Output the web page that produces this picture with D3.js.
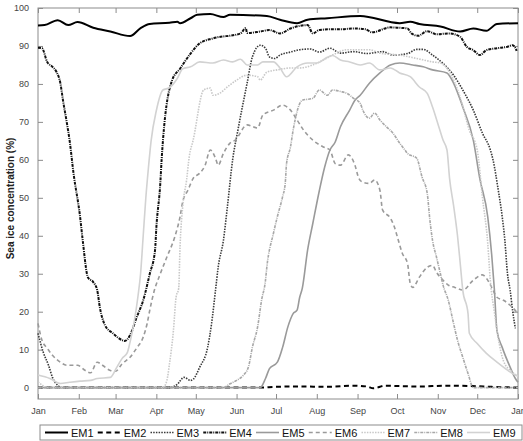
<!DOCTYPE html>
<html>
<head>
<meta charset="utf-8">
<script src="https://cdn.jsdelivr.net/npm/d3@7"></script>
<style>
  body { margin: 0; background: #fff; }
  svg { display: block; font-family: "Liberation Sans", Arial, sans-serif; }
</style>
</head>
<body>
<div id="app"></div>
<script>
// month ticks (day of year)
let monthDays = [0, 31, 59, 90, 120, 151, 181, 212, 243, 273, 304, 334, 365]
let monthLabels = ["Jan", "Feb", "Mar", "Apr", "May", "Jun", "Jul", "Aug", "Sep", "Oct", "Nov", "Dec", "Jan"]
let yTicks = [0, 10, 20, 30, 40, 50, 60, 70, 80, 90, 100]
let seriesNames = ["EM1", "EM2", "EM3", "EM4", "EM5", "EM6", "EM7", "EM8", "EM9"]

// [day of year, concentration %]
let em1 = [[0,95.4],[5,95.5],[15,96.8],[23,95.5],[30,96.3],[42,94.8],[55,93.8],[70,92.6],[78,94.7],[85,95.8],
  [100,96.1],[106,96.4],[108,96],[116,97.3],[121,98.2],[131,98.4],[141,97.6],[146,98.2],[174,97.9],[184,96.9],
  [197,96],[205,96.9],[220,97.3],[245,97.9],[275,96],[283,96.4],[290,95.8],[306,95.1],[321,93.8],[331,94.6],
  [341,94],[349,95.8],[365,96]]
let em2 = [[0,0],[170,0],[180,0.2],[200,0.3],[220,0.2],[240,0.5],[250,0.3],[255,-0.2],[264,0.5],[275,0.4],
  [290,0.3],[310,0.5],[330,0.4],[345,0.2],[365,0]]
let em3 = [[0,14.3],[4,9.3],[8,5.9],[11,2.7],[15,0.6],[18,0],[100,0],[106,0.9],[111,2.7],[116,1.9],[118,2.2],
  [123,5.4],[129,10.6],[132,16.9],[135,25.7],[137,31.7],[141,38.8],[144,47.6],[148,60],[152,67.8],[159,80.2],
  [163,87.1],[169,90.2],[173,89.4],[176,87.1],[180,86.7],[184,87.6],[192,88.4],[199,89],[207,89.2],[214,88.4],
  [222,89.4],[230,88.1],[240,88.5],[250,88],[262,88.5],[270,87.6],[281,88],[288,89.1],[293,89.1],[300,87.6],
  [308,85.4],[316,82.3],[323,78.4],[331,73.1],[338,67],[344,62.6],[346,60],[350,52],[353,45],[355,38.8],
  [357,30],[359,25.7],[361,20],[363,15.6]]
let em4 = [[0,89.5],[3,89.4],[7,85.8],[11,84.5],[14,83.2],[17,80.2],[19,75.7],[22,69.6],[24,65.2],[27,56.5],
  [32,45],[34,38.8],[38,29],[42,27.8],[45,25.7],[47,21.2],[51,16.4],[57,14.3],[64,12.5],[66,12.3],[70,13.8],
  [75,18.5],[80,23],[85,30],[89,36.2],[90,42.2],[93,53.8],[94,60],[95,65],[102,81],[108,84],[116,88],
  [123,90.7],[133,92],[154,93.3],[158,94.7],[159,93.4],[169,93.8],[176,94.2],[184,93.3],[192,94.6],[205,95.5],
  [209,93.3],[214,94.2],[224,94.4],[230,94.4],[240,94.6],[249,94.4],[254,93.6],[268,94.9],[274,94.8],
  [281,94.6],[284,93.3],[289,92.7],[296,93.9],[303,93.1],[313,93.3],[321,92.4],[326,89.8],[331,88.9],[336,87.6],
  [341,88.9],[349,89.4],[357,89.8],[361,90.2],[364,88.7]]
let em5 = [[0,0],[169,0],[173,2.4],[176,5],[182,6.7],[186,10.6],[190,16],[194,19.5],[197,20.4],[199,23.8],
  [201,26.2],[205,36.2],[209,43.3],[214,52],[218,58.1],[222,62.6],[226,64.7],[230,68.7],[237,73.1],[241,75.7],
  [245,77],[252,80.2],[260,82.9],[268,85],[275,85.5],[285,85],[293,84.5],[300,83.7],[311,82.9],[316,80.2],
  [323,73.9],[331,65.2],[336,55],[342,45],[345,35],[347,26],[349,15],[353,10.6],[359,5.4],[363,2.4],[365,1.4]]
let em6 = [[0,16.9],[3,12.5],[7,10.4],[11,8.5],[17,6.7],[22,5.9],[30,5.9],[36,4.5],[40,3.9],[45,6.7],[49,5.9],
  [55,4.5],[59,4.3],[64,6.3],[70,8],[75,10.4],[80,13.3],[83,16.9],[85,20.4],[88,25],[93,30],[98,34.4],
  [104,39.7],[108,45],[110,48.9],[114,52],[118,55.1],[123,56.5],[127,58.5],[131,62.6],[135,60.4],[137,58.6],
  [141,61.7],[146,64.4],[150,65.2],[159,69.2],[167,68.4],[171,71.8],[179,73.1],[186,74.4],[192,73.1],[197,70.5],
  [202,67.8],[209,65.2],[217,63.4],[222,62.6],[226,59],[230,58.6],[236,61.3],[241,58.6],[244,55.1],[247,54.1],
  [252,53.8],[256,54.7],[260,52],[262,46.8],[268,44.6],[271,42.3],[274,38.8],[277,35.4],[281,32.7],[283,27.5],
  [285,26.4],[290,29.1],[296,31.7],[300,32.2],[303,30.4],[308,28.3],[312,27],[317,26.4],[323,25.7],[331,28.3],
  [338,29.7],[341,28.8],[345,26.4],[349,23.8],[354,23],[359,21.7],[364,19.9]]
let em7 = [[0,1.5],[8,0],[95,0],[98,1.9],[100,6.3],[103,15.1],[105,23.8],[107,26.2],[108,37],[110,47.6],
  [113,54.7],[115,60.8],[118,65.2],[126,78.4],[131,78.9],[133,77],[138,77.5],[144,79.2],[151,81],[159,82.3],
  [167,81.9],[169,81],[174,83.1],[182,83.7],[192,84.2],[199,84.2],[209,85],[217,86.3],[224,87.6],[235,89],
  [245,89],[252,89],[260,88.1],[275,87.6],[288,86.7],[300,85.8],[306,85.5],[313,83.1],[321,76.5],[328,67.8],
  [334,62.6],[338,50],[342,38],[344,28],[347,20],[350,13],[354,7],[360,4.3],[365,3]]
let em8 = [[0,0],[141,0],[146,1],[151,1.9],[156,3.2],[160,5.4],[163,10.6],[167,16],[170,23],[173,28.3],
  [174,31.7],[179,40.6],[182,45],[186,50.3],[188,53.8],[189,59],[192,63.4],[194,67.8],[201,75.7],[209,76.2],
  [214,78.4],[220,77],[224,78.4],[230,78],[235,77.5],[240,76.2],[245,74.9],[247,73.1],[252,71],[256,72.3],
  [260,70.5],[265,68.7],[270,67],[275,64.4],[279,62.6],[281,61.7],[288,60.4],[292,55.5],[296,51.1],[298,44.1],
  [300,38.8],[303,34.4],[306,30],[308,27],[312,23],[316,16.9],[319,12.5],[323,8],[327,3.7],[331,0],[365,0]]
let em9 = [[0,3.3],[9,2.4],[17,1.1],[24,1.4],[32,1.7],[40,1.9],[45,2.4],[55,2.7],[60,5.4],[64,7.7],[68,9.3],
  [70,12],[73,17],[76,24],[78,30],[80,40],[82,50],[84,58],[86,65],[90,73],[95,78.4],
  [100,79],[106,81.5],[110,84],[116,84.5],[123,85.8],[133,85.5],[141,86.3],[148,85.8],[154,86.5],[159,85],
  [167,85],[171,85.8],[179,85.8],[184,84.2],[189,81.9],[197,84.5],[205,85.5],[212,85.5],[220,87],[224,87.5],
  [230,86.3],[237,85.8],[245,85],[252,85.5],[260,83.7],[268,84.2],[275,82.9],[283,81.9],[290,79.2],[296,77.5],
  [300,73.9],[304,69.6],[308,65.2],[311,62.6],[313,55],[316,48],[319,40],[321,33],[323,25.7],[327,19.5],
  [328,14.3],[334,11.6],[341,9],[349,6.7],[357,4.6],[363,3.3],[365,3]]

let seriesData = [em1, em2, em3, em4, em5, em6, em7, em8, em9]

// styles per series: colour, width, dash
let styles = [
  {color: "#000", width: 2, dash: null},
  {color: "#000", width: 2, dash: "5,3.5"},
  {color: "#3a3a3a", width: 1.6, dash: "1.5,1.2"},
  {color: "#111", width: 2, dash: "3,1,1,1"},
  {color: "#9a9a9a", width: 1.6, dash: null},
  {color: "#9a9a9a", width: 1.6, dash: "4,3"},
  {color: "#c8c8c8", width: 1.6, dash: "1.5,1.2"},
  {color: "#a8a8a8", width: 1.6, dash: "3,1,1,1"},
  {color: "#d2d2d2", width: 1.6, dash: null}
]

let width = 523, height = 441

let svg = d3.select("#app").append("svg")
  .attr("width", width)
  .attr("height", height)

let x = d3.scaleLinear().domain([0, 365]).range([38, 518])
let y = d3.scaleLinear().domain([-3, 100]).range([399, 8])

let axisColor = "#8c8c8c"

// box
svg.append("rect")
  .attr("x", x(0)).attr("y", y(100))
  .attr("width", x(365) - x(0)).attr("height", y(-3) - y(100))
  .attr("fill", "none").attr("stroke", axisColor).attr("stroke-width", 1)

// x axis bottom (ticks inward)
let xAxis = svg.append("g")
  .attr("transform", `translate(0,${y(-3)})`)
  .call(d3.axisBottom(x).tickValues(monthDays).tickSize(-5).tickPadding(9)
    .tickFormat((d, i) => monthLabels[i]))
xAxis.select(".domain").remove()
xAxis.selectAll("line").attr("stroke", axisColor)
xAxis.selectAll("text").attr("fill", "#444").style("font-size", "9px")

// top ticks
svg.append("g")
  .attr("transform", `translate(0,${y(100)})`)
  .call(d3.axisTop(x).tickValues(monthDays).tickSize(-5).tickFormat(""))
  .call(g => g.select(".domain").remove())
  .selectAll("line").attr("stroke", axisColor)

// y axis left
let yAxis = svg.append("g")
  .attr("transform", `translate(${x(0)},0)`)
  .call(d3.axisLeft(y).tickValues(yTicks).tickSize(-5).tickPadding(9))
yAxis.select(".domain").remove()
yAxis.selectAll("line").attr("stroke", axisColor)
yAxis.selectAll("text").attr("fill", "#444").style("font-size", "9px")

// right ticks
svg.append("g")
  .attr("transform", `translate(${x(365)},0)`)
  .call(d3.axisRight(y).tickValues(yTicks).tickSize(-5).tickFormat(""))
  .call(g => g.select(".domain").remove())
  .selectAll("line").attr("stroke", axisColor)

// y label
svg.append("text")
  .attr("transform", `translate(14,${(y(100) + y(-3)) / 2 - 5}) rotate(-90)`)
  .attr("text-anchor", "middle")
  .style("font-size", "10px")
  .style("font-weight", "bold")
  .attr("fill", "#222")
  .text("Sea ice concentration (%)")

let line = d3.line()
  .x(d => x(d[0]))
  .y(d => y(d[1]))
  .curve(d3.curveMonotoneX)

let plot = svg.append("g")
seriesData.forEach((s, i) => {
  plot.append("path")
    .datum(s)
    .attr("fill", "none")
    .attr("stroke", styles[i].color)
    .attr("stroke-width", styles[i].width)
    .attr("stroke-dasharray", styles[i].dash)
    .attr("stroke-linejoin", "round")
    .attr("d", line)
})

// legend
let legend = svg.append("g")
legend.append("rect")
  .attr("x", 40).attr("y", 425).attr("width", 482).attr("height", 15)
  .attr("fill", "#fff").attr("stroke", axisColor)

let legendStep = 52.75
seriesNames.forEach((name, i) => {
  let tx = 71 + i * legendStep
  legend.append("line")
    .attr("x1", tx - 26).attr("x2", tx - 3)
    .attr("y1", 432.5).attr("y2", 432.5)
    .attr("stroke", styles[i].color)
    .attr("stroke-width", styles[i].width)
    .attr("stroke-dasharray", styles[i].dash)
  legend.append("text")
    .attr("x", tx).attr("y", 436.5)
    .style("font-size", "11px")
    .attr("fill", "#111")
    .text(name)
})
</script>
</body>
</html>
